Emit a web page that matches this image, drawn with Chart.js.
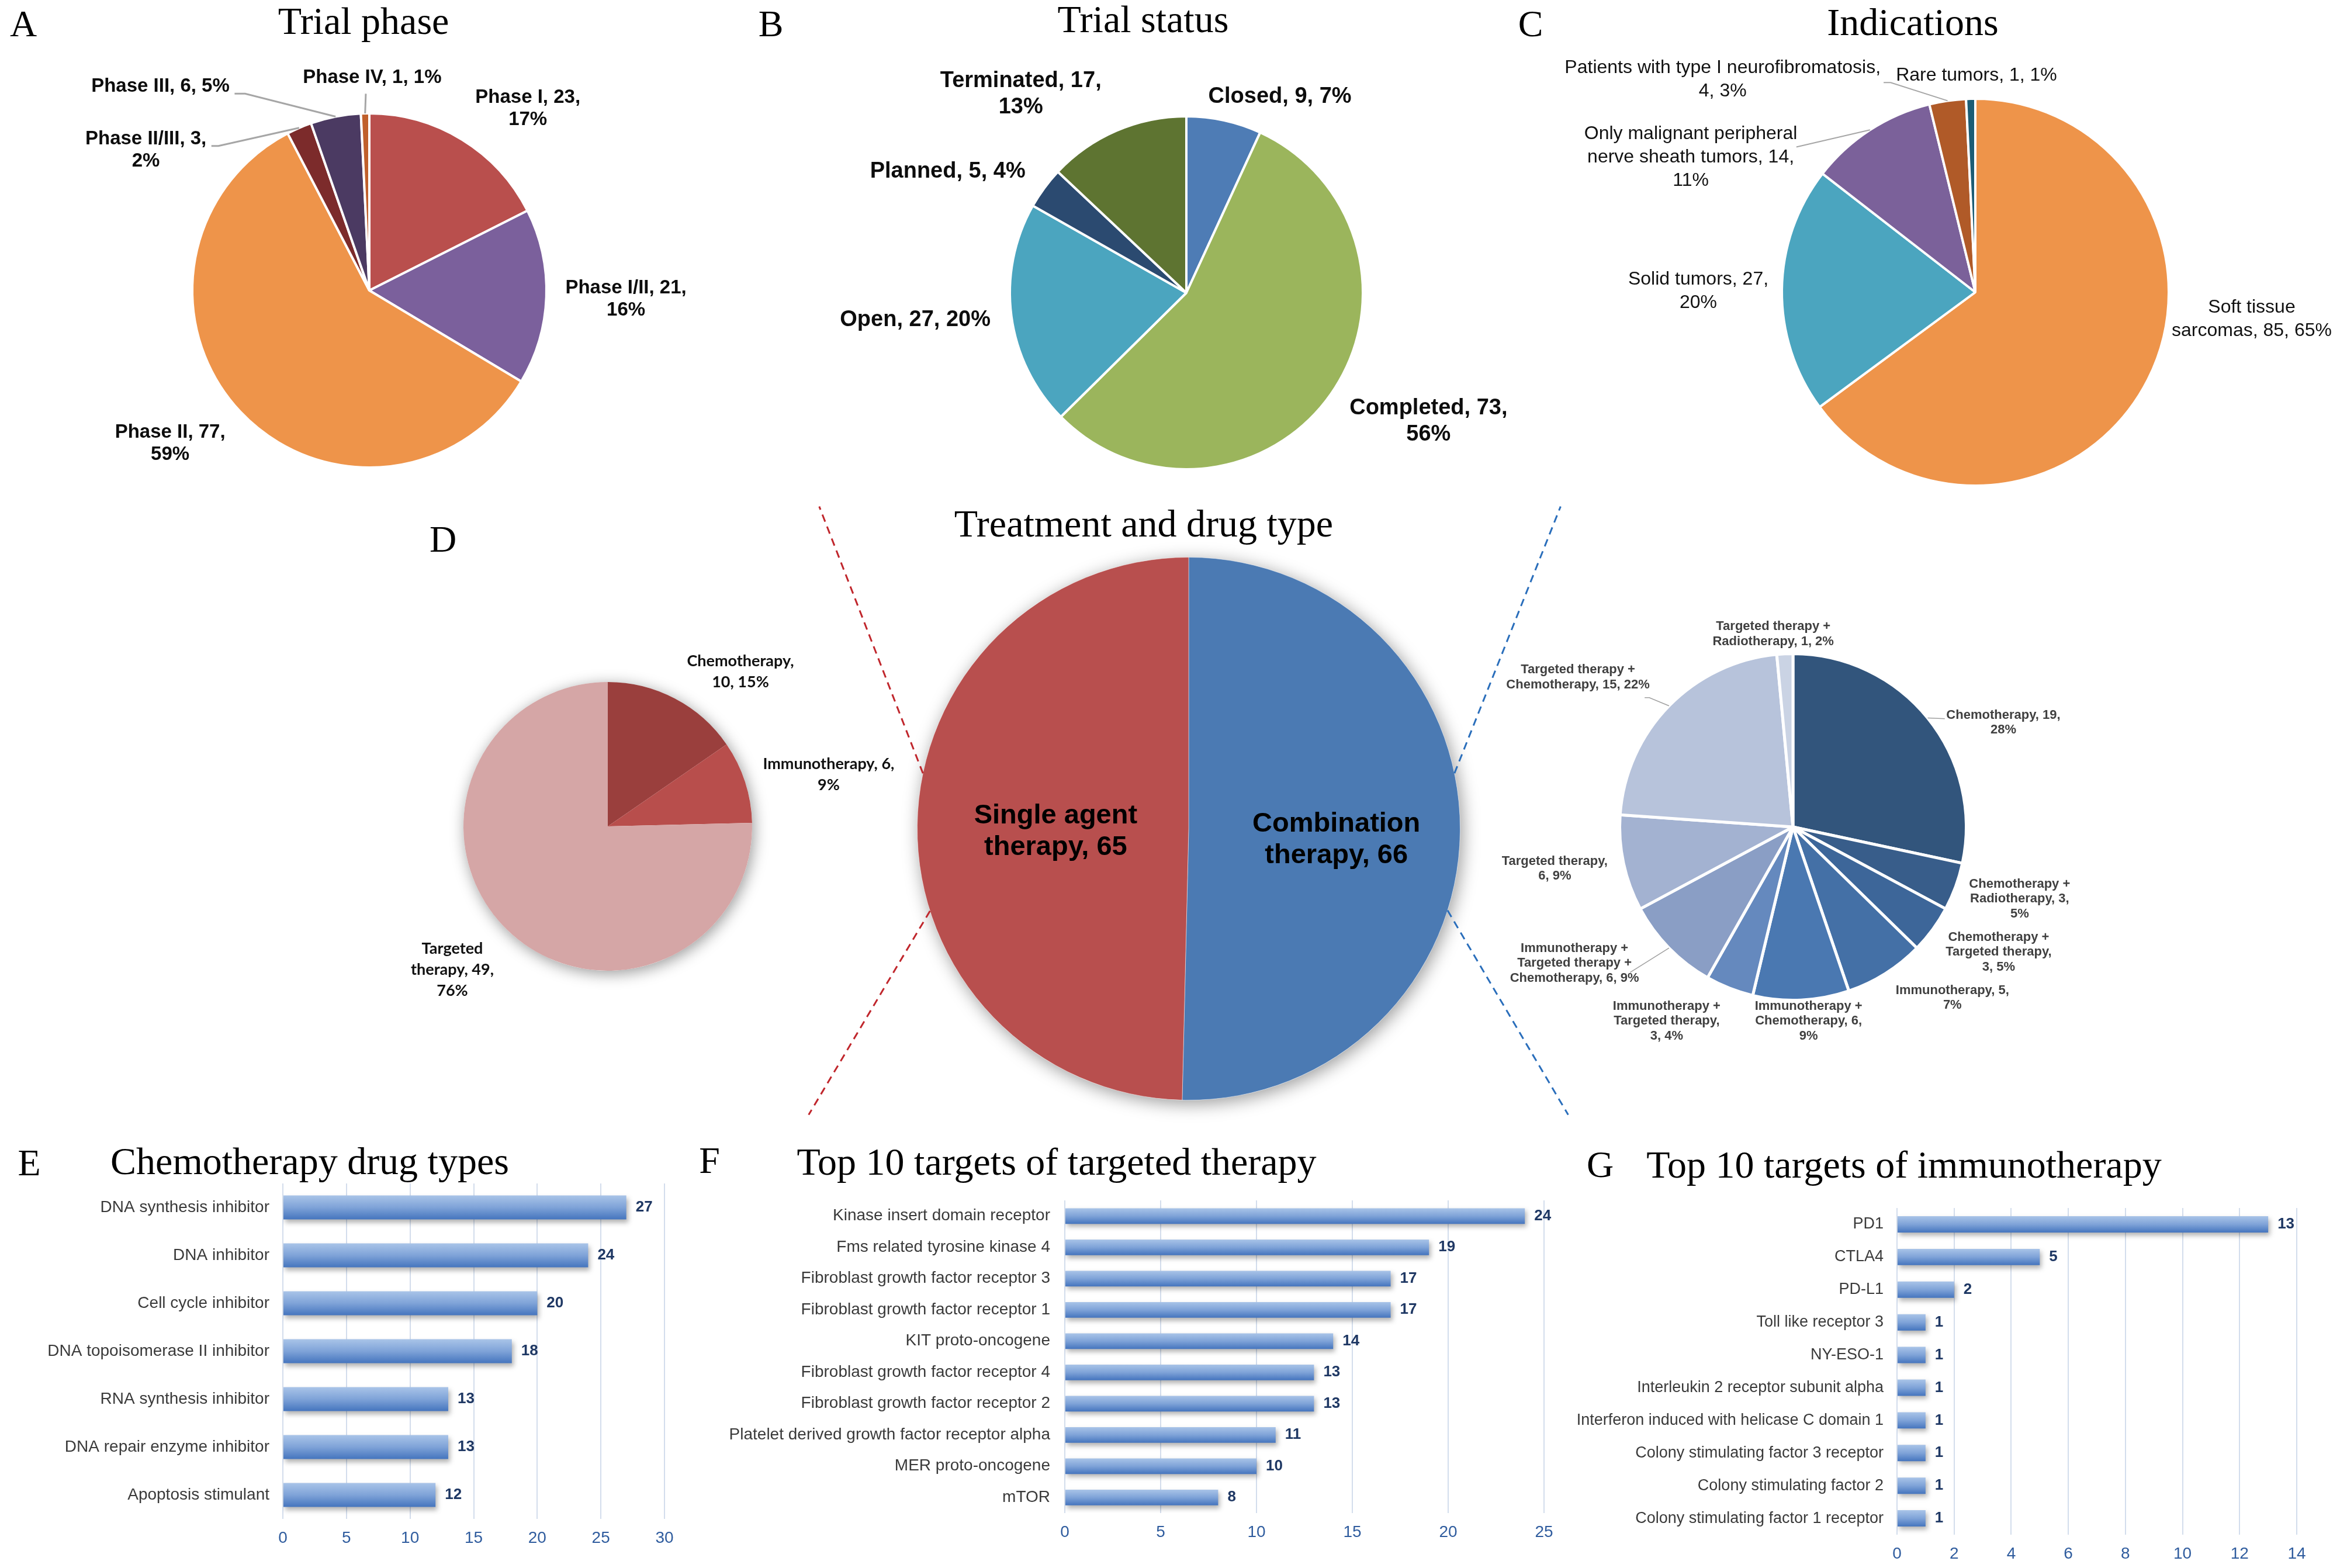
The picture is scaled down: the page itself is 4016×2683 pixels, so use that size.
<!DOCTYPE html>
<html>
<head>
<meta charset="utf-8">
<script src="https://cdn.jsdelivr.net/npm/chart.js@4.4.1/dist/chart.umd.min.js"></script>
<style>
  html, body { margin: 0; padding: 0; background: #fff; }
  #page { position: relative; width: 4016px; height: 2683px; overflow: hidden; background: #fff; }
  canvas { position: absolute; }
  .t { position: absolute; transform: translate(-50%, -50%); font-family: 'Liberation Serif', 'Times New Roman', serif;
       font-size: 66px; line-height: 1; white-space: nowrap; color: #000; }
  .l { font-size: 64px; }
</style>
</head>
<body>
<div id="page">
  <div class="t l" style="left:40px;top:41px">A</div>
  <div class="t" style="left:622px;top:36px">Trial phase</div>
  <div class="t l" style="left:1319px;top:41px">B</div>
  <div class="t" style="left:1956px;top:33px">Trial status</div>
  <div class="t l" style="left:2619px;top:41px">C</div>
  <div class="t" style="left:3273px;top:38px">Indications</div>
  <div class="t l" style="left:758px;top:923px">D</div>
  <div class="t" style="left:1957px;top:896px">Treatment and drug type</div>
  <div class="t l" style="left:50px;top:1990px">E</div>
  <div class="t" style="left:530px;top:1987px">Chemotherapy drug types</div>
  <div class="t l" style="left:1214px;top:1986px">F</div>
  <div class="t" style="left:1808px;top:1988px">Top 10 targets of targeted therapy</div>
  <div class="t l" style="left:2738px;top:1993px">G</div>
  <div class="t" style="left:3258px;top:1993px">Top 10 targets of immunotherapy</div>

  <canvas id="cA" width="1300" height="800" style="left:0px;top:60px"></canvas>
  <canvas id="cB" width="1340" height="800" style="left:1300px;top:60px"></canvas>
  <canvas id="cC" width="1376" height="800" style="left:2640px;top:60px"></canvas>
  <canvas id="cSingle" width="900" height="800" style="left:650px;top:1000px"></canvas>
  <canvas id="cCombo" width="1080" height="850" style="left:2520px;top:1000px"></canvas>
  <canvas id="cMain" width="1370" height="1090" style="left:1350px;top:850px"></canvas>
  <canvas id="cE" width="1220" height="683" style="left:0px;top:2000px"></canvas>
  <canvas id="cF" width="1500" height="653" style="left:1200px;top:2030px"></canvas>
  <canvas id="cG" width="1356" height="643" style="left:2660px;top:2040px"></canvas>
</div>
<script>
// A - trial phase
const phaseNames = ['Phase I', 'Phase I/II', 'Phase II', 'Phase II/III', 'Phase III', 'Phase IV'];
const phaseCounts = [23, 21, 77, 3, 6, 1];
const phasePct = [17, 16, 59, 2, 5, 1];

// B - trial status
const statusNames = ['Closed', 'Completed', 'Open', 'Planned', 'Terminated'];
const statusCounts = [9, 73, 27, 5, 17];
const statusPct = [7, 56, 20, 4, 13];

// C - indications
const indicationNames = ['Soft tissue sarcomas', 'Solid tumors', 'Only malignant peripheral nerve sheath tumors',
    'Patients with type I neurofibromatosis', 'Rare tumors'];
const indicationCounts = [85, 27, 14, 4, 1];
const indicationPct = [65, 20, 11, 3, 1];

// D - treatment and drug type
const treatmentNames = ['Combination therapy', 'Single agent therapy'];
const treatmentCounts = [66, 65];

const singleNames = ['Chemotherapy', 'Immunotherapy', 'Targeted therapy'];
const singleCounts = [10, 6, 49];
const singlePct = [15, 9, 76];

const comboNames = ['Chemotherapy', 'Chemotherapy + Radiotherapy', 'Chemotherapy + Targeted therapy', 'Immunotherapy',
    'Immunotherapy + Chemotherapy', 'Immunotherapy + Targeted therapy', 'Immunotherapy + Targeted therapy + Chemotherapy',
    'Targeted therapy', 'Targeted therapy + Chemotherapy', 'Targeted therapy + Radiotherapy'];
const comboCounts = [19, 3, 3, 5, 6, 3, 6, 6, 15, 1];
const comboPct = [28, 5, 5, 7, 9, 4, 9, 9, 22, 2];

// E - chemotherapy drug types
const chemoTypes = ['DNA synthesis inhibitor', 'DNA inhibitor', 'Cell cycle inhibitor', 'DNA topoisomerase II inhibitor',
    'RNA synthesis inhibitor', 'DNA repair enzyme inhibitor', 'Apoptosis stimulant'];
const chemoCounts = [27, 24, 20, 18, 13, 13, 12];
const chemoAxis = [0, 30, 5]; // min, max, step

// F - targeted therapy targets
const targetNames = ['Kinase insert domain receptor', 'Fms related tyrosine kinase 4', 'Fibroblast growth factor receptor 3',
    'Fibroblast growth factor receptor 1', 'KIT proto-oncogene', 'Fibroblast growth factor receptor 4',
    'Fibroblast growth factor receptor 2', 'Platelet derived growth factor receptor alpha', 'MER proto-oncogene', 'mTOR'];
const targetCounts = [24, 19, 17, 17, 14, 13, 13, 11, 10, 8];
const targetAxis = [0, 25, 5];

// G - immunotherapy targets
const immunoTargets = ['PD1', 'CTLA4', 'PD-L1', 'Toll like receptor 3', 'NY-ESO-1', 'Interleukin 2 receptor subunit alpha',
    'Interferon induced with helicase C domain 1', 'Colony stimulating factor 3 receptor', 'Colony stimulating factor 2',
    'Colony stimulating factor 1 receptor'];
const immunoCounts = [13, 5, 2, 1, 1, 1, 1, 1, 1, 1];
const immunoAxis = [0, 14, 2];

const SANS = "'Liberation Sans', Arial, sans-serif";
Chart.defaults.font.family = SANS;
Chart.defaults.animation = false;

// "name, n, p%" split into lines; breaks = word index where a new line starts
function labelText(names, counts, pct) {
    return names.map((n, i) => pct ? `${n}, ${counts[i]}, ${pct[i]}%` : `${n}, ${counts[i]}`);
}
function wrap(txt, breaks) {
    const w = txt.split(' ');
    const out = [];
    let s = 0;
    for (const b of [...breaks, w.length]) {
        out.push(w.slice(s, b).join(' '));
        s = b;
    }
    return out;
}

// white disc with soft shadow under the slices
const pieShadowPlugin = {
    id: 'pieShadow',
    beforeDatasetsDraw(chart, args, opts) {
        if (!opts.blur) return;
        const a = chart.getDatasetMeta(0).data[0];
        const ctx = chart.ctx;
        ctx.save();
        ctx.shadowColor = opts.color;
        ctx.shadowBlur = opts.blur;
        ctx.shadowOffsetX = opts.dx;
        ctx.shadowOffsetY = opts.dy;
        ctx.fillStyle = '#fff';
        ctx.beginPath();
        ctx.arc(a.x, a.y, a.outerRadius, 0, Math.PI * 2);
        ctx.fill();
        ctx.restore();
    }
};

// slice labels, positions given in units of the radius from the pie centre
const pieLabelPlugin = {
    id: 'pieLabels',
    afterDatasetsDraw(chart, args, opts) {
        if (!opts.texts) return;
        const arcs = chart.getDatasetMeta(0).data;
        const cx = arcs[0].x, cy = arcs[0].y, r = arcs[0].outerRadius;
        const ctx = chart.ctx;
        ctx.save();
        opts.texts.forEach((txt, i) => {
            const ld = opts.leaders && opts.leaders[i];
            if (ld) {
                const a = arcs[i];
                const mid = (a.startAngle + a.endAngle) / 2;
                const ex = cx + Math.cos(mid) * r, ey = cy + Math.sin(mid) * r;
                const sx = cx + ld[0] * r, sy = cy + ld[1] * r;
                ctx.strokeStyle = opts.leaderColor;
                ctx.lineWidth = opts.leaderWidth;
                ctx.beginPath();
                ctx.moveTo(sx, sy);
                ctx.lineTo(sx + Math.sign(ex - sx) * ld[2], sy);
                ctx.lineTo(ex, ey);
                ctx.stroke();
            }
            const lines = wrap(txt, opts.breaks[i]);
            const lx = cx + opts.pos[i][0] * r, ly = cy + opts.pos[i][1] * r;
            const top = ly - (lines.length - 1) * opts.lineHeight / 2;
            ctx.font = opts.font;
            ctx.fillStyle = opts.color;
            ctx.textAlign = 'center';
            ctx.textBaseline = 'middle';
            lines.forEach((ln, j) => ctx.fillText(ln, lx, top + j * opts.lineHeight));
        });
        ctx.restore();
    }
};

// dashed connectors from the main pie to the side pies
const connectorPlugin = {
    id: 'connectors',
    afterDraw(chart, args, opts) {
        if (!opts.lines) return;
        const a = chart.getDatasetMeta(0).data[0];
        const r = a.outerRadius;
        const ctx = chart.ctx;
        ctx.save();
        ctx.lineWidth = opts.width;
        ctx.setLineDash(opts.dash);
        opts.lines.forEach(l => {
            const fx = l.side * Math.sqrt(1 - l.fromY * l.fromY);
            ctx.strokeStyle = l.color;
            ctx.beginPath();
            ctx.moveTo(a.x + fx * r, a.y + l.fromY * r);
            ctx.lineTo(a.x + l.to[0] * r, a.y + l.to[1] * r);
            ctx.stroke();
        });
        ctx.restore();
    }
};

function makePie(id, names, counts, colors, cfg) {
    return new Chart(document.getElementById(id), {
        type: 'pie',
        data: {
            labels: names,
            datasets: [{
                data: counts,
                backgroundColor: colors,
                borderColor: cfg.borderColor || '#fff',
                borderWidth: cfg.borderWidth
            }]
        },
        options: {
            responsive: false,
            devicePixelRatio: 1,
            animation: false,
            layout: {padding: cfg.padding},
            plugins: {
                legend: {display: false},
                tooltip: {enabled: false},
                pieLabels: cfg.labels,
                pieShadow: cfg.shadow || {},
                connectors: cfg.connectors || {}
            }
        },
        plugins: [pieShadowPlugin, pieLabelPlugin, connectorPlugin]
    });
}

// A
makePie('cA', phaseNames, phaseCounts,
    ['#B94F4D', '#7B609C', '#EE944A', '#7C2B2B', '#4B3A62', '#C0602C'], {
        borderWidth: 4,
        padding: {left: 327, right: 363, top: 132, bottom: 58},
        labels: {
            texts: labelText(phaseNames, phaseCounts, phasePct),
            breaks: [[3], [3], [3], [3], [], []],
            pos: [[0.895, -1.026], [1.449, 0.049], [-1.125, 0.866], [-1.262, -0.793], [-1.180, -1.151], [0.016, -1.203]],
            leaders: [null, null, null, [-0.892, -0.816, 12], [-0.761, -1.111, 18], [-0.020, -1.111, 0]],
            font: `bold 33px ${SANS}`, lineHeight: 38, color: '#0D0D0D',
            leaderColor: '#A6A6A6', leaderWidth: 3
        }
    });

// B
makePie('cB', statusNames, statusCounts,
    ['#4E7CB5', '#9BB55C', '#4BA5BF', '#2B4A70', '#5E7431'], {
        borderWidth: 4,
        padding: {left: 426, right: 306, top: 137, bottom: 55},
        labels: {
            texts: labelText(statusNames, statusCounts, statusPct),
            breaks: [[], [2], [], [], [2]],
            pos: [[0.530, -1.112], [1.372, 0.727], [-1.536, 0.155], [-1.352, -0.688], [-0.938, -1.125]],
            font: `bold 38px ${SANS}`, lineHeight: 45, color: '#0D0D0D'
        }
    });

// C
makePie('cC', indicationNames, indicationCounts,
    ['#EE944A', '#4BA5BF', '#7B619A', '#B05A28', '#1C5D75'], {
        borderWidth: 4,
        padding: {left: 407, right: 303, top: 107, bottom: 27},
        labels: {
            texts: labelText(indicationNames, indicationCounts, indicationPct),
            breaks: [[2], [3], [3, 7], [5], []],
            pos: [[1.429, 0.138], [-1.432, -0.006], [-1.471, -0.697], [-1.306, -1.099], [0.006, -1.120]],
            leaders: [null, null, [-0.925, -0.751, 0], [-0.474, -1.084, 12], null],
            font: `32px ${SANS}`, lineHeight: 40, color: '#111',
            leaderColor: '#A6A6A6', leaderWidth: 2
        }
    });

// D - single agent breakdown
makePie('cSingle', singleNames, singleCounts, ['#9A3F3D', '#B84E4C', '#D5A6A6'], {
    borderWidth: 0,
    padding: {left: 143, right: 263, top: 167, bottom: 139},
    shadow: {blur: 26, color: 'rgba(0,0,0,0.4)', dx: 3, dy: 5},
    labels: {
        texts: labelText(singleNames, singleCounts, singlePct),
        breaks: [[1], [2], [1, 3]],
        pos: [[0.919, -1.073], [1.530, -0.360], [-1.077, 0.992]],
        font: `bold 27px Lato, ${SANS}`, lineHeight: 36, color: '#111'
    }
});

// D - combination breakdown
makePie('cCombo', comboNames, comboCounts,
    ['#32557C', '#385D8A', '#3D6699', '#4470A6', '#4A78B1', '#6589BE', '#8A9EC5', '#A3B2D1', '#B7C3DB', '#CAD3E4'], {
        borderWidth: 5,
        padding: {left: 249, right: 233, top: 116, bottom: 136},
        labels: {
            texts: labelText(comboNames, comboCounts, comboPct),
            breaks: [[2], [2, 4], [2, 4], [2], [2, 4], [2, 4], [2, 5], [2], [3], [3]],
            pos: [[1.214, -0.602], [1.308, 0.415], [1.187, 0.722], [0.920, 0.987], [0.090, 1.120],
                [-0.729, 1.120], [-1.261, 0.786], [-1.375, 0.241], [-1.241, -0.863], [-0.114, -1.114]],
            leaders: [[0.876, -0.625, 0], null, null, null, null, null, [-0.940, 0.839, 0], null, [-0.856, -0.746, 8], null],
            font: `bold 22px ${SANS}`, lineHeight: 25.5, color: '#404040',
            leaderColor: '#A0A0A0', leaderWidth: 1.5
        }
    });

// D - main split
makePie('cMain', treatmentNames, treatmentCounts, ['#4B7AB3', '#B84F4E'], {
    borderWidth: 1,
    borderColor: 'rgba(255,255,255,0.45)',
    padding: {left: 219, right: 221, top: 103, bottom: 57},
    shadow: {blur: 30, color: 'rgba(0,0,0,0.4)', dx: 4, dy: 6},
    labels: {
        texts: labelText(treatmentNames, treatmentCounts, null),
        breaks: [[1], [2]],
        pos: [[0.544, 0.041], [-0.490, 0.011]],
        font: `bold 47px ${SANS}`, lineHeight: 54, color: '#000'
    },
    connectors: {
        width: 3, dash: [13, 9],
        lines: [
            {side: -1, fromY: -0.204, to: [-1.361, -1.187], color: '#C0262C'},
            {side: -1, fromY: 0.303, to: [-1.400, 1.054], color: '#C0262C'},
            {side: 1, fromY: -0.204, to: [1.370, -1.187], color: '#2A6EBB'},
            {side: 1, fromY: 0.301, to: [1.398, 1.054], color: '#2A6EBB'}
        ]
    }
});

// bars: light-to-dark vertical gradient per bar
function barFill(c) {
    const chart = c.chart;
    const ys = chart.scales && chart.scales.y;
    if (!ys || !chart.chartArea || c.type !== 'data') return '#6F97D2';
    const yc = ys.getPixelForValue(c.dataIndex);
    const half = (ys.height / chart.data.labels.length) * 0.25;
    const g = chart.ctx.createLinearGradient(0, yc - half, 0, yc + half);
    g.addColorStop(0, '#A9C4E8');
    g.addColorStop(0.5, '#7FA3D8');
    g.addColorStop(1, '#4575BE');
    return g;
}

const barShadowPlugin = {
    id: 'barShadow',
    beforeDatasetDraw(chart) {
        const ctx = chart.ctx;
        ctx.save();
        ctx.shadowColor = 'rgba(0,0,0,0.3)';
        ctx.shadowBlur = 8;
        ctx.shadowOffsetX = 3;
        ctx.shadowOffsetY = 5;
    },
    afterDatasetDraw(chart) {
        chart.ctx.restore();
    }
};

const barValuePlugin = {
    id: 'barValues',
    afterDatasetsDraw(chart) {
        const ctx = chart.ctx;
        const values = chart.data.datasets[0].data;
        ctx.save();
        ctx.font = `bold 26px ${SANS}`;
        ctx.fillStyle = '#1F3864';
        ctx.textAlign = 'left';
        ctx.textBaseline = 'middle';
        chart.getDatasetMeta(0).data.forEach((b, i) => ctx.fillText(values[i], b.x + 16, b.y));
        ctx.restore();
    }
};

function makeBars(id, labels, values, axis, lay) {
    return new Chart(document.getElementById(id), {
        type: 'bar',
        data: {
            labels: labels,
            datasets: [{data: values, backgroundColor: barFill, borderWidth: 0, barPercentage: 0.5, categoryPercentage: 1}]
        },
        options: {
            indexAxis: 'y',
            responsive: false,
            devicePixelRatio: 1,
            animation: false,
            layout: {padding: lay.padding},
            plugins: {legend: {display: false}, tooltip: {enabled: false}},
            scales: {
                x: {
                    min: axis[0], max: axis[1],
                    ticks: {stepSize: axis[2], color: '#2F5C9E', font: {size: 28}, padding: 16},
                    grid: {color: '#D3DDEC', lineWidth: 2, drawTicks: false},
                    border: {display: false},
                    afterFit: s => { s.height = lay.xh; s.paddingLeft = 0; s.paddingRight = 0; }
                },
                y: {
                    ticks: {color: '#3A3A3A', font: {size: lay.fs}, padding: lay.tp, autoSkip: false},
                    grid: {display: false, drawTicks: false},
                    border: {display: false},
                    afterFit: s => { s.width = lay.yw; s.paddingTop = 0; s.paddingBottom = 0; }
                }
            }
        },
        plugins: [barShadowPlugin, barValuePlugin]
    });
}

makeBars('cE', chemoTypes, chemoCounts, chemoAxis,
    {padding: {top: 25, right: 83, bottom: 24, left: 0}, xh: 60, yw: 484, fs: 28, tp: 23});
makeBars('cF', targetNames, targetCounts, targetAxis,
    {padding: {top: 24, right: 58, bottom: 34, left: 0}, xh: 60, yw: 622, fs: 28, tp: 25});
makeBars('cG', immunoTargets, immunoCounts, immunoAxis,
    {padding: {top: 27, right: 86, bottom: 7, left: 0}, xh: 50, yw: 586, fs: 27, tp: 23});
</script>
</body>
</html>
